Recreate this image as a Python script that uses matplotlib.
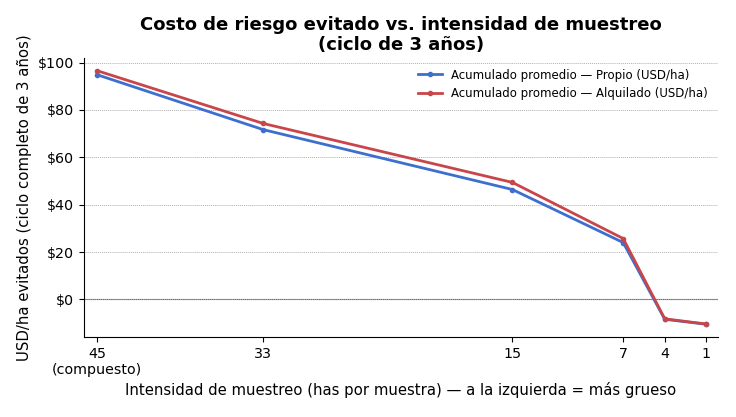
import matplotlib
matplotlib.use("Agg")
import matplotlib.pyplot as plt
from matplotlib.ticker import FuncFormatter

intensidad = [45, 33, 15, 7, 4, 1]
propio = [94.9, 71.7, 46.4, 24.0, -8.4, -10.5]
alquilado = [96.6, 74.3, 49.4, 25.7, -8.2, -10.4]
tick_labels = ["45\n(compuesto)", "33", "15", "7", "4", "1"]

fig, ax = plt.subplots(figsize=(7.36, 4.17), dpi=100)
fig.subplots_adjust(left=0.114, right=0.976, top=0.861, bottom=0.192)

ax.plot(intensidad, propio, color="#3d6fcf", lw=2, marker="o", ms=3,
        label="Acumulado promedio — Propio (USD/ha)")
ax.plot(intensidad, alquilado, color="#c8464a", lw=2, marker="o", ms=3,
        label="Acumulado promedio — Alquilado (USD/ha)")

ax.axhline(0, color="#666666", lw=0.8, zorder=0)
ax.grid(axis="y", linestyle=(0, (1, 1)), color="#b0b0b0", lw=0.7)
ax.set_axisbelow(True)

ax.set_xticks(intensidad)
ax.set_xticklabels(tick_labels)
ax.set_xlim(45.94, 0.13)
ax.yaxis.set_major_formatter(FuncFormatter(lambda v, p: f"${v:.0f}"))

ax.spines["top"].set_visible(False)
ax.spines["right"].set_visible(False)

ax.set_title("Costo de riesgo evitado vs. intensidad de muestreo\n(ciclo de 3 años)",
             fontsize=13, fontweight="bold", linespacing=1.1)
ax.set_xlabel("Intensidad de muestreo (has por muestra) — a la izquierda = más grueso", fontsize=10.7)
ax.set_ylabel("USD/ha evitados (ciclo completo de 3 años)", fontsize=10.7)
ax.tick_params(labelsize=10.3)
ax.legend(loc="upper right", frameon=False, fontsize=8.5)

fig.savefig("out.png", dpi=100)
